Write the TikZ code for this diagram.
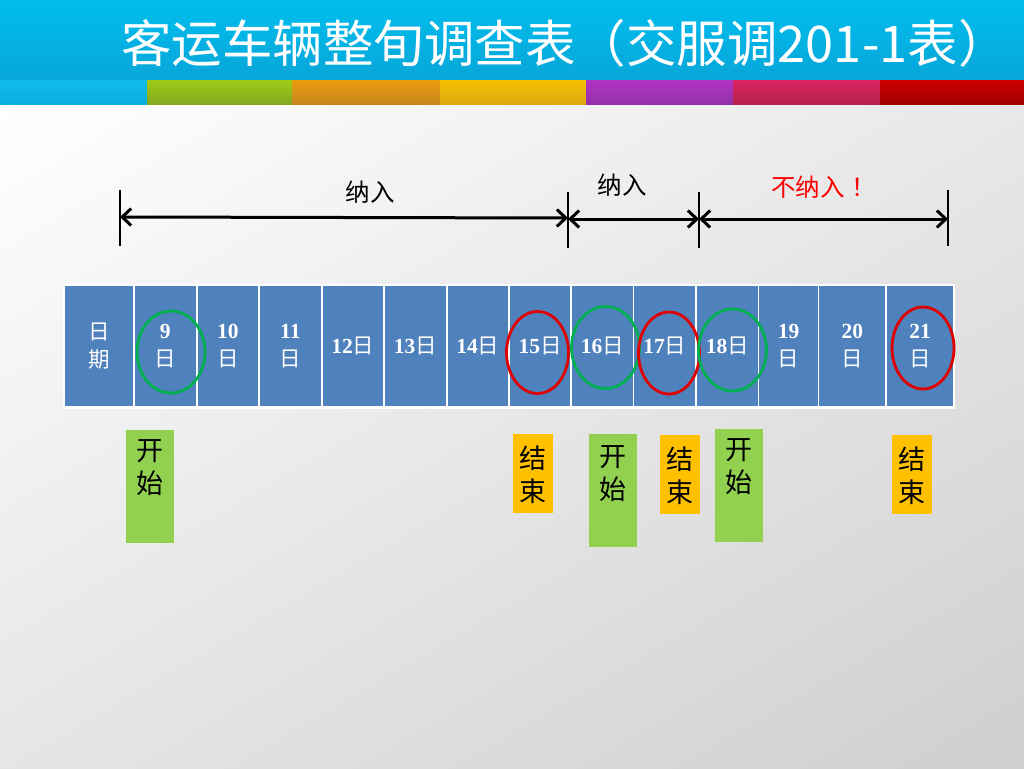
\documentclass[tikz,border=0pt]{standalone}
\usepackage{fontspec}
\setmainfont{Liberation Serif}
\newfontfamily\cjk{Noto Sans CJK SC}
\usetikzlibrary{arrows.meta,shadings}
\definecolor{cellblue}{HTML}{4F81BD}
\definecolor{boxgreen}{HTML}{92D050}
\definecolor{boxorange}{HTML}{FFC000}
\definecolor{ringgreen}{HTML}{00B050}
\definecolor{ringred}{HTML}{E00000}
\definecolor{hdrtop}{HTML}{00BEEE}
\definecolor{hdrbot}{HTML}{08A6D8}
\newcommand\dayc{{\cjk\mdseries 日}}
\tikzset{
  cell/.style={fill=cellblue, draw=white, line width=1.6pt, minimum height=122pt,
    inner sep=0pt, text=white, align=center,
    font=\fontsize{21.5}{28}\selectfont\bfseries},
  ring/.style={line width=2.8pt},
  dimbar/.style={line width=2.4pt, black},
  dimline/.style={line width=3pt, black, {Straight Barb[length=9pt,width=17pt]}-{Straight Barb[length=9pt,width=17pt]}},
  lbl/.style={font=\cjk\fontsize{24.5}{24.5}\selectfont, inner sep=0pt},
  gbox/.style={fill=boxgreen, minimum width=48pt, minimum height=113pt, inner sep=0pt, anchor=north west},
  obox/.style={fill=boxorange, minimum width=40pt, minimum height=79pt, inner sep=0pt, anchor=north west},
  btxt/.style={font=\cjk\fontsize{27}{33}\selectfont, align=center, inner sep=0pt, anchor=north},
}
\begin{document}
\begin{tikzpicture}[x=1pt,y=-1pt]
\useasboundingbox (0,0) rectangle (1024,768);
% background
\shade[upper left=white, upper right=black!9, lower left=black!10, lower right=black!19] (0,104) rectangle (1024,768);
\shade[top color=hdrtop, bottom color=hdrbot] (0,0) rectangle (1024,80);
% colour strips
\foreach \l/\r/\ct/\cb in {0/147/{11BCEA}/{0AAEDD},147/292/{A0CC18}/{84A822},292/440/{EA9C0E}/{C8861C},440/586/{F4C200}/{E0A810},586/733/{B234C4}/{9232A8},733/880/{DA2462}/{B8224E},880/1024/{CC0000}/{A00000}}{
  \definecolor{stt}{HTML}{\ct}\definecolor{stb}{HTML}{\cb}
  \shade[top color=stt, bottom color=stb] (\l,80) rectangle (\r,104);
}
\node[font=\cjk\fontsize{50.5}{50.5}\selectfont, text=white, inner sep=0pt] (title) at (565,43) {客运车辆整旬调查表（交服调201-1表）};
% table
\foreach \l/\r/\t [count=\i] in {64/134/{\cjk\mdseries 日\\\cjk\mdseries 期},134/196.7/{9\\\dayc},196.7/259/{10\\\dayc},259/321.7/{11\\\dayc},321.7/384/{12\dayc},384/446.7/{13\dayc},446.7/509/{14\dayc},509/571/{15\dayc},571/633.5/{16\dayc},633.5/696/{17\dayc},696/758.5/{18\dayc},758.5/818.5/{19\\\dayc},818.5/886/{20\\\dayc},886/954/{21\\\dayc}}{
  \node[cell, minimum width={\r-\l}] (c\i) at ({(\l+\r)/2},346) {\t};
}
\draw[white, line width=3pt] (c1.south west) -- (c14.south east);
% rings
\draw[ring, ringgreen] (171,352) ellipse [x radius=34pt, y radius=41pt];
\draw[ring, ringred] (537.5,352.5) ellipse [x radius=31pt, y radius=41pt];
\draw[ring, ringgreen] (605.5,347.5) ellipse [x radius=34pt, y radius=41pt];
\draw[ring, ringred] (669,353) ellipse [x radius=30.5pt, y radius=41pt];
\draw[ring, ringgreen] (732.5,350) ellipse [x radius=34pt, y radius=41pt];
\draw[ring, ringred] (923,348) ellipse [x radius=31pt, y radius=41pt];
% dimension lines
\coordinate (b1t) at (120,190); \coordinate (b1b) at (120,246);
\coordinate (b2t) at (568,192); \coordinate (b2b) at (568,248);
\coordinate (b3t) at (699,192); \coordinate (b3b) at (699,248);
\coordinate (b4t) at (948,190); \coordinate (b4b) at (948,246);
\foreach \b in {1,2,3,4}{\draw[dimbar] (b\b t) -- (b\b b);}
\coordinate (a1) at (120,217); \coordinate (a2) at (568,218);
\coordinate (a3) at (568,219); \coordinate (a4) at (699,219);
\coordinate (a5) at (699,219); \coordinate (a6) at (948,219);
\draw[dimline] (a1) -- (a2);
\draw[dimline] (a3) -- (a4);
\draw[dimline] (a5) -- (a6);
\node[lbl] (n1) at (370,192) {纳入};
\node[lbl] (n2) at (622,185) {纳入};
\node[lbl, text=red, anchor=west] (n3) at (771,187) {不纳入\hspace{7pt}！};
% start / end boxes
\node[gbox] (g1) at (126,430) {};
\node[btxt] (tg1) at ([yshift=-9pt]g1.north) {开\\始};
\node[obox] (o1) at (513,434) {};
\node[btxt] (to1) at ([yshift=-12pt]o1.north) {结\\束};
\node[gbox] (g2) at (589,434) {};
\node[btxt] (tg2) at ([yshift=-11pt]g2.north) {开\\始};
\node[obox] (o2) at (660,435) {};
\node[btxt] (to2) at ([yshift=-12pt]o2.north) {结\\束};
\node[gbox] (g3) at (715,429) {};
\node[btxt] (tg3) at ([yshift=-9pt]g3.north) {开\\始};
\node[obox] (o3) at (892,435) {};
\node[btxt] (to3) at ([yshift=-12pt]o3.north) {结\\束};
\end{tikzpicture}
\end{document}
